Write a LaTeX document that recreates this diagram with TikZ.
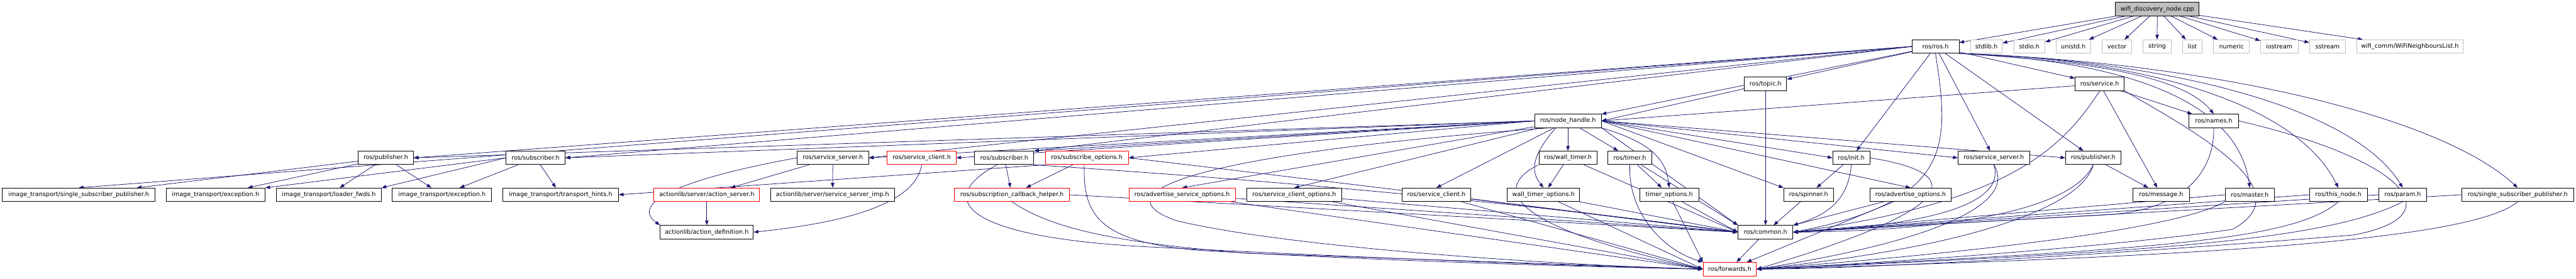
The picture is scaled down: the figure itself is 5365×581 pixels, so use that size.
\documentclass[tikz,border=0pt]{standalone}
\usepackage{fontspec}
\newfontfamily\dfont{DejaVu Sans}
\usetikzlibrary{arrows.meta}
\pgfdeclarelayer{bg}
\pgfsetlayers{bg,main}
\definecolor{edgec}{HTML}{191970}
\definecolor{extc}{HTML}{BFBFBF}
\tikzset{
 fbox/.style={draw=black, line width=0.55pt, fill=white, inner sep=0pt, minimum height=14pt, font=\dfont\fontsize{6.3}{7}\selectfont},
 rbox/.style={fbox, draw=red},
 gbox/.style={fbox, draw=extc},
 rootbox/.style={fbox, fill=extc},
 edge/.style={draw=edgec, line width=0.5pt, -{Triangle[length=5pt,width=3.6pt]}},
}
\newcommand{\nd}[6]{\pgfmathsetmacro{\ndcx}{(#2+#3)/2}\pgfmathsetmacro{\ndcy}{#4+14}\pgfmathsetmacro{\ndw}{(#3-#2)*0.5}\node[#5, minimum width=\ndw pt] (#1) at (\ndcx,\ndcy) {#6};}
\begin{document}
\begin{tikzpicture}[x=0.5pt,y=-0.5pt]
\useasboundingbox (0,0) rectangle (5365,581);
% row 0
\nd{root}{4406}{4580}{5}{rootbox}{wifi\_discovery\_node.cpp}
% row 1
\nd{ros}{3982}{4080}{83}{fbox}{ros/ros.h}
\nd{stdlib}{4104}{4170}{83}{gbox}{stdlib.h}
\nd{stdio}{4194}{4259}{83}{gbox}{stdio.h}
\nd{unistd}{4282}{4354}{83}{gbox}{unistd.h}
\nd{vector}{4378}{4440}{83}{gbox}{vector}
\nd{string}{4463}{4522}{83}{gbox}{string}
\nd{list}{4546}{4586}{83}{gbox}{list}
\nd{numeric}{4610}{4685}{83}{gbox}{numeric}
\nd{iostream}{4708}{4786}{83}{gbox}{iostream}
\nd{sstream}{4810}{4885}{83}{gbox}{sstream}
\nd{wifi}{4908}{5130}{83}{gbox}{wifi\_comm/WiFiNeighboursList.h}
% row 2
\nd{topic}{3633}{3721}{161}{fbox}{ros/topic.h}
\nd{service}{4322}{4424}{161}{fbox}{ros/service.h}
% row 3
\nd{nh}{3196}{3335}{238}{fbox}{ros/node\_handle.h}
\nd{names}{4559}{4662}{238}{fbox}{ros/names.h}
% row 4
\nd{itpub}{746}{861}{315}{fbox}{ros/publisher.h}
\nd{itsub}{1054}{1177}{315}{fbox}{ros/subscriber.h}
\nd{ssrv}{1660}{1809}{315}{fbox}{ros/service\_server.h}
\nd{sclient}{1848}{1991}{315}{rbox}{ros/service\_client.h}
\nd{rsub}{2030}{2153}{315}{fbox}{ros/subscriber.h}
\nd{subopt}{2177}{2350}{315}{rbox}{ros/subscribe\_options.h}
\nd{wt}{3205}{3326}{315}{fbox}{ros/wall\_timer.h}
\nd{timer}{3349}{3440}{315}{fbox}{ros/timer.h}
\nd{init}{3817}{3894}{315}{fbox}{ros/init.h}
\nd{rsrv}{4078}{4227}{315}{fbox}{ros/service\_server.h}
\nd{rpub}{4302}{4417}{315}{fbox}{ros/publisher.h}
% row 5
\nd{itssp}{5}{323}{392}{fbox}{image\_transport/single\_subscriber\_publisher.h}
\nd{itexc}{346}{552}{392}{fbox}{image\_transport/exception.h}
\nd{itlf}{576}{794}{392}{fbox}{image\_transport/loader\_fwds.h}
\nd{itexcb}{817}{1024}{392}{fbox}{image\_transport/exception.h}
\nd{itth}{1047}{1288}{392}{fbox}{image\_transport/transport\_hints.h}
\nd{actsrv}{1362}{1582}{392}{rbox}{actionlib/server/action\_server.h}
\nd{ssimp}{1605}{1863}{392}{fbox}{actionlib/server/service\_server\_imp.h}
\nd{sch}{1988}{2227}{392}{rbox}{ros/subscription\_callback\_helper.h}
\nd{aso}{2351}{2573}{392}{rbox}{ros/advertise\_service\_options.h}
\nd{sco}{2596}{2795}{392}{fbox}{ros/service\_client\_options.h}
\nd{rsc}{2920}{3063}{392}{fbox}{ros/service\_client.h}
\nd{wto}{3139}{3290}{392}{fbox}{wall\_timer\_options.h}
\nd{to}{3415}{3538}{392}{fbox}{timer\_options.h}
\nd{spinner}{3715}{3818}{392}{fbox}{ros/spinner.h}
\nd{advopt}{3894}{4064}{392}{fbox}{ros/advertise\_options.h}
\nd{message}{4442}{4560}{392}{fbox}{ros/message.h}
\nd{master}{4634}{4737}{392}{fbox}{ros/master.h}
\nd{thisnode}{4810}{4930}{392}{fbox}{ros/this\_node.h}
\nd{param}{4954}{5054}{392}{fbox}{ros/param.h}
\nd{rssp}{5127}{5360}{392}{fbox}{ros/single\_subscriber\_publisher.h}
% row 6
\nd{actdef}{1375}{1569}{470}{fbox}{actionlib/action\_definition.h}
\nd{common}{3620}{3734}{470}{fbox}{ros/common.h}
% row 7
\nd{fwd}{3547}{3658}{547}{rbox}{ros/forwards.h}
% ---------- edges ----------
\begin{pgfonlayer}{bg}
\foreach \t in {ros,stdlib,stdio,unistd,vector,string,list,numeric,iostream,sstream,wifi}
  \draw[edge] (root) -- (\t);
% ros/ros.h
\foreach \t in {topic,service,nh,init,rsrv,rpub}
  \draw[edge] (ros) -- (\t);
\draw[edge] (ros.west) -- (itssp.north);
\draw[edge] (ros.west) -- (itpub.east);
\draw[edge] (ros.west) -- (itsub.east);
\draw[edge] (ros.west) -- (ssrv.east);
\draw[edge] (ros.west) -- (rsub.north east);
\draw[edge] (ros.south) .. controls (4060,300) and (4070,420) .. (common.east);
\draw[edge] (ros.south east) .. controls (4300,125) and (4540,150) .. (names.north);
\draw[edge] (ros.south east) .. controls (4400,125) and (4660,200) .. (master.north);
\draw[edge] (ros.south east) .. controls (4450,122) and (4780,210) .. (thisnode.north);
\draw[edge] (ros.south east) .. controls (4500,125) and (4900,220) .. (param.north);
\draw[edge] (ros.south east) .. controls (4600,130) and (5080,240) .. (rssp.north);
% ros/service.h
\draw[edge] (service) -- (nh.east);
\draw[edge] (service) -- (names);
\draw[edge] (service) -- (message);
\draw[edge] (service.south) .. controls (4300,300) and (4200,420) .. (common.east);
\draw[edge] (service.south east) .. controls (4600,290) and (4790,400) .. (4650,478) .. controls (4400,515) and (3900,550) .. (fwd.east);
% ros/topic.h
\draw[edge] (topic) -- (nh.east);
\draw[edge] (topic) -- (common);
% ros/node_handle.h
\draw[edge] (nh.west) -- (itpub.east);
\draw[edge] (nh.west) -- (itsub.east);
\draw[edge] (nh.west) -- (ssrv.east);
\draw[edge] (nh.west) -- (sclient.east);
\draw[edge] (nh.west) -- (rsub.north east);
\draw[edge] (nh.west) -- (subopt.east);
\draw[edge] (nh) -- (aso.north);
\draw[edge] (nh) -- (sco.north);
\draw[edge] (nh) -- (rsc.north);
\draw[edge] (nh) -- (wt);
\draw[edge] (nh.210) .. controls (3185,330) and (3190,360) .. (wto.north);
\draw[edge] (nh) -- (timer);
\draw[edge] (nh.south east) .. controls (3450,300) and (3470,340) .. (to.north);
\draw[edge] (nh.east) -- (init.west);
\draw[edge] (nh.east) -- (spinner.north west);
\draw[edge] (nh.east) -- (advopt.north);
\draw[edge] (nh.east) -- (rsrv.west);
\draw[edge] (nh.east) -- (rpub.west);
\draw[edge] (nh.south east) -- (common.north west);
\draw[edge] (nh.200) .. controls (2500,320) and (2280,400) .. (2450,460) .. controls (2700,520) and (3300,555) .. (fwd.west);
% image_transport publisher / subscriber
\draw[edge] (itpub) -- (itssp);
\draw[edge] (itpub) -- (itexc);
\draw[edge] (itpub) -- (itlf);
\draw[edge] (itpub) -- (itexcb);
\draw[edge] (itsub.west) -- (itexc.north east);
\draw[edge] (itsub.west) -- (itlf.north east);
\draw[edge] (itsub) -- (itexcb);
\draw[edge] (itsub) -- (itth);
% actionlib
\draw[edge] (ssrv) -- (actsrv);
\draw[edge] (ssrv) -- (ssimp);
\draw[edge] (ssrv.west) .. controls (1380,380) and (1320,430) .. (actdef.north west);
\draw[edge] (actsrv) -- (actdef);
\draw[edge] (sclient.south) .. controls (1905,440) and (1700,470) .. (actdef.east);
% subscriber side
\draw[edge] (rsub) -- (sch);
\draw[edge] (subopt) -- (sch);
\draw[edge] (subopt.south west) -- (itth.east);
\draw[edge] (rsub.225) .. controls (1950,410) and (1990,495) .. (2400,515) .. controls (2900,540) and (3300,555) .. (fwd.west);
\draw[edge] (rsub.south east) .. controls (2400,360) and (3000,400) .. (common.west);
\draw[edge] (subopt.250) .. controls (2255,450) and (2290,505) .. (2500,522) .. controls (2900,545) and (3300,556) .. (fwd.west);
\draw[edge] (subopt.east) .. controls (2700,370) and (3200,430) .. (common.west);
\draw[edge] (sch.south) .. controls (2180,470) and (2300,505) .. (2600,528) -- (fwd.west);
\draw[edge] (sch.east) -- (common.west);
\foreach \s in {aso,sco,rsc,wto} {
  \draw[edge] (\s) -- (common.west);
  \draw[edge] (\s) -- (fwd.west);
}
\draw[edge] (wt) -- (wto);
\draw[edge] (wt) -- (common.west);
\draw[edge] (wt.south west) .. controls (3110,390) and (3130,470) .. (fwd.west);
\draw[edge] (timer) -- (to);
\draw[edge] (timer) -- (common.north west);
\draw[edge] (timer.south) .. controls (3390,440) and (3460,520) .. (fwd.north west);
\draw[edge] (to) -- (common.west);
\draw[edge] (to) -- (fwd.north west);
% right part
\draw[edge] (init) -- (spinner);
\draw[edge] (init.south) .. controls (3850,420) and (3800,450) .. (common.north east);
\draw[edge] (init.east) .. controls (4090,360) and (4100,430) .. (fwd.east);
\draw[edge] (spinner) -- (common);
\draw[edge] (advopt) -- (common.north east);
\draw[edge] (advopt) -- (fwd);
\draw[edge] (rsrv.south) .. controls (4180,430) and (4000,470) .. (common.east);
\draw[edge] (rsrv.south) .. controls (4200,420) and (4050,500) .. (fwd.east);
\draw[edge] (rpub.south) .. controls (4320,430) and (4100,480) .. (common.east);
\draw[edge] (rpub.south) .. controls (4340,420) and (4150,510) .. (fwd.east);
\draw[edge] (rpub) -- (message);
\draw[edge] (names.south) .. controls (4612,330) and (4580,430) .. (4400,447) -- (common.east);
\draw[edge] (names.east) .. controls (5000,330) and (5120,450) .. (4900,490) .. controls (4400,530) and (3900,560) .. (fwd.east);
\foreach \s in {master,thisnode,param,rssp} {
  \draw[edge] (\s.west) -- (common.east);
}
\draw[edge] (master.south west) .. controls (4550,470) and (4200,520) .. (fwd.east);
\draw[edge] (thisnode.south) .. controls (4780,500) and (4500,520) .. (fwd.east);
\draw[edge] (param.south) .. controls (4850,500) and (4500,525) .. (fwd.east);
\draw[edge] (rssp.south) .. controls (5150,500) and (4600,535) .. (fwd.east);
\draw[edge] (common) -- (fwd);
\end{pgfonlayer}
\end{tikzpicture}
\end{document}
